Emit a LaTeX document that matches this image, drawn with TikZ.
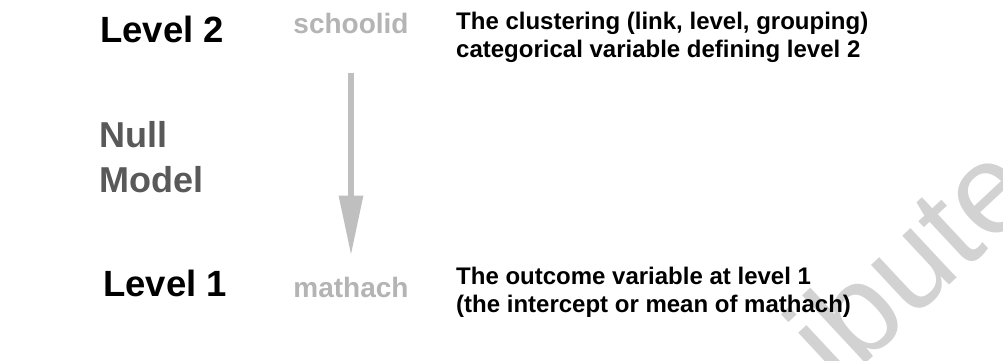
\documentclass[tikz,border=0pt]{standalone}
\usepackage{fontspec}
\setmainfont{Liberation Sans}
\usepackage{tikz}
\usetikzlibrary{arrows.meta}
\definecolor{vargray}{HTML}{B4B4B4}
\definecolor{nullgray}{HTML}{595959}
\definecolor{arrowgray}{HTML}{BFBFBF}
\definecolor{markgray}{HTML}{D2D2D2}

\begin{document}
\begin{tikzpicture}[x=1pt,y=-1pt,
	level/.style={anchor=base west, inner sep=0pt, font=\bfseries\fontsize{36.5}{42}\selectfont},
	var/.style={anchor=base, inner sep=0pt, text=vargray, font=\bfseries\fontsize{28}{32}\selectfont},
	note/.style={anchor=base west, inner sep=0pt, align=left, font=\bfseries\fontsize{24}{27.5}\selectfont}]
		\clip (0,0) rectangle (1003,360);
		\fill[white] (0,0) rectangle (1003,360);
		% watermark
		\node[rotate=43, anchor=base, inner sep=0pt, text=markgray, font=\fontsize{128}{128}\selectfont] (mark) at (940,294) {ibute};
		\foreach \x/\y/\alph/\name/\vy/\var/\vname in {
			100/42/lvltwo/Level 2/33/schoolid/schoolid,
			103/296/lvlone/Level 1/297/mathach/mathach
		}{
			\node[level] (\alph) at (\x,\y) {\name};
			\node[var] (\var) at (351,\vy) {\vname};
		}
		% base anchor sits on the last line
		\node[anchor=base west, inner sep=0pt, align=left, text=nullgray, font=\bfseries\fontsize{36}{45}\selectfont] (null) at (99.5,192) {Null\\Model};
		\node[note] (lvltwonote) at (456,57) {The clustering (link, level, grouping)\\categorical variable defining level 2};
		\node[note] (lvlonenote) at (456,312) {The outcome variable at level 1\\(the intercept or mean of mathach)};
		\draw[arrowgray, line width=6pt, -{Triangle[length=60pt,width=23pt]}, shorten <=40pt, shorten >=21pt] (schoolid.south) -- (mathach.north);
\end{tikzpicture}
\end{document}
